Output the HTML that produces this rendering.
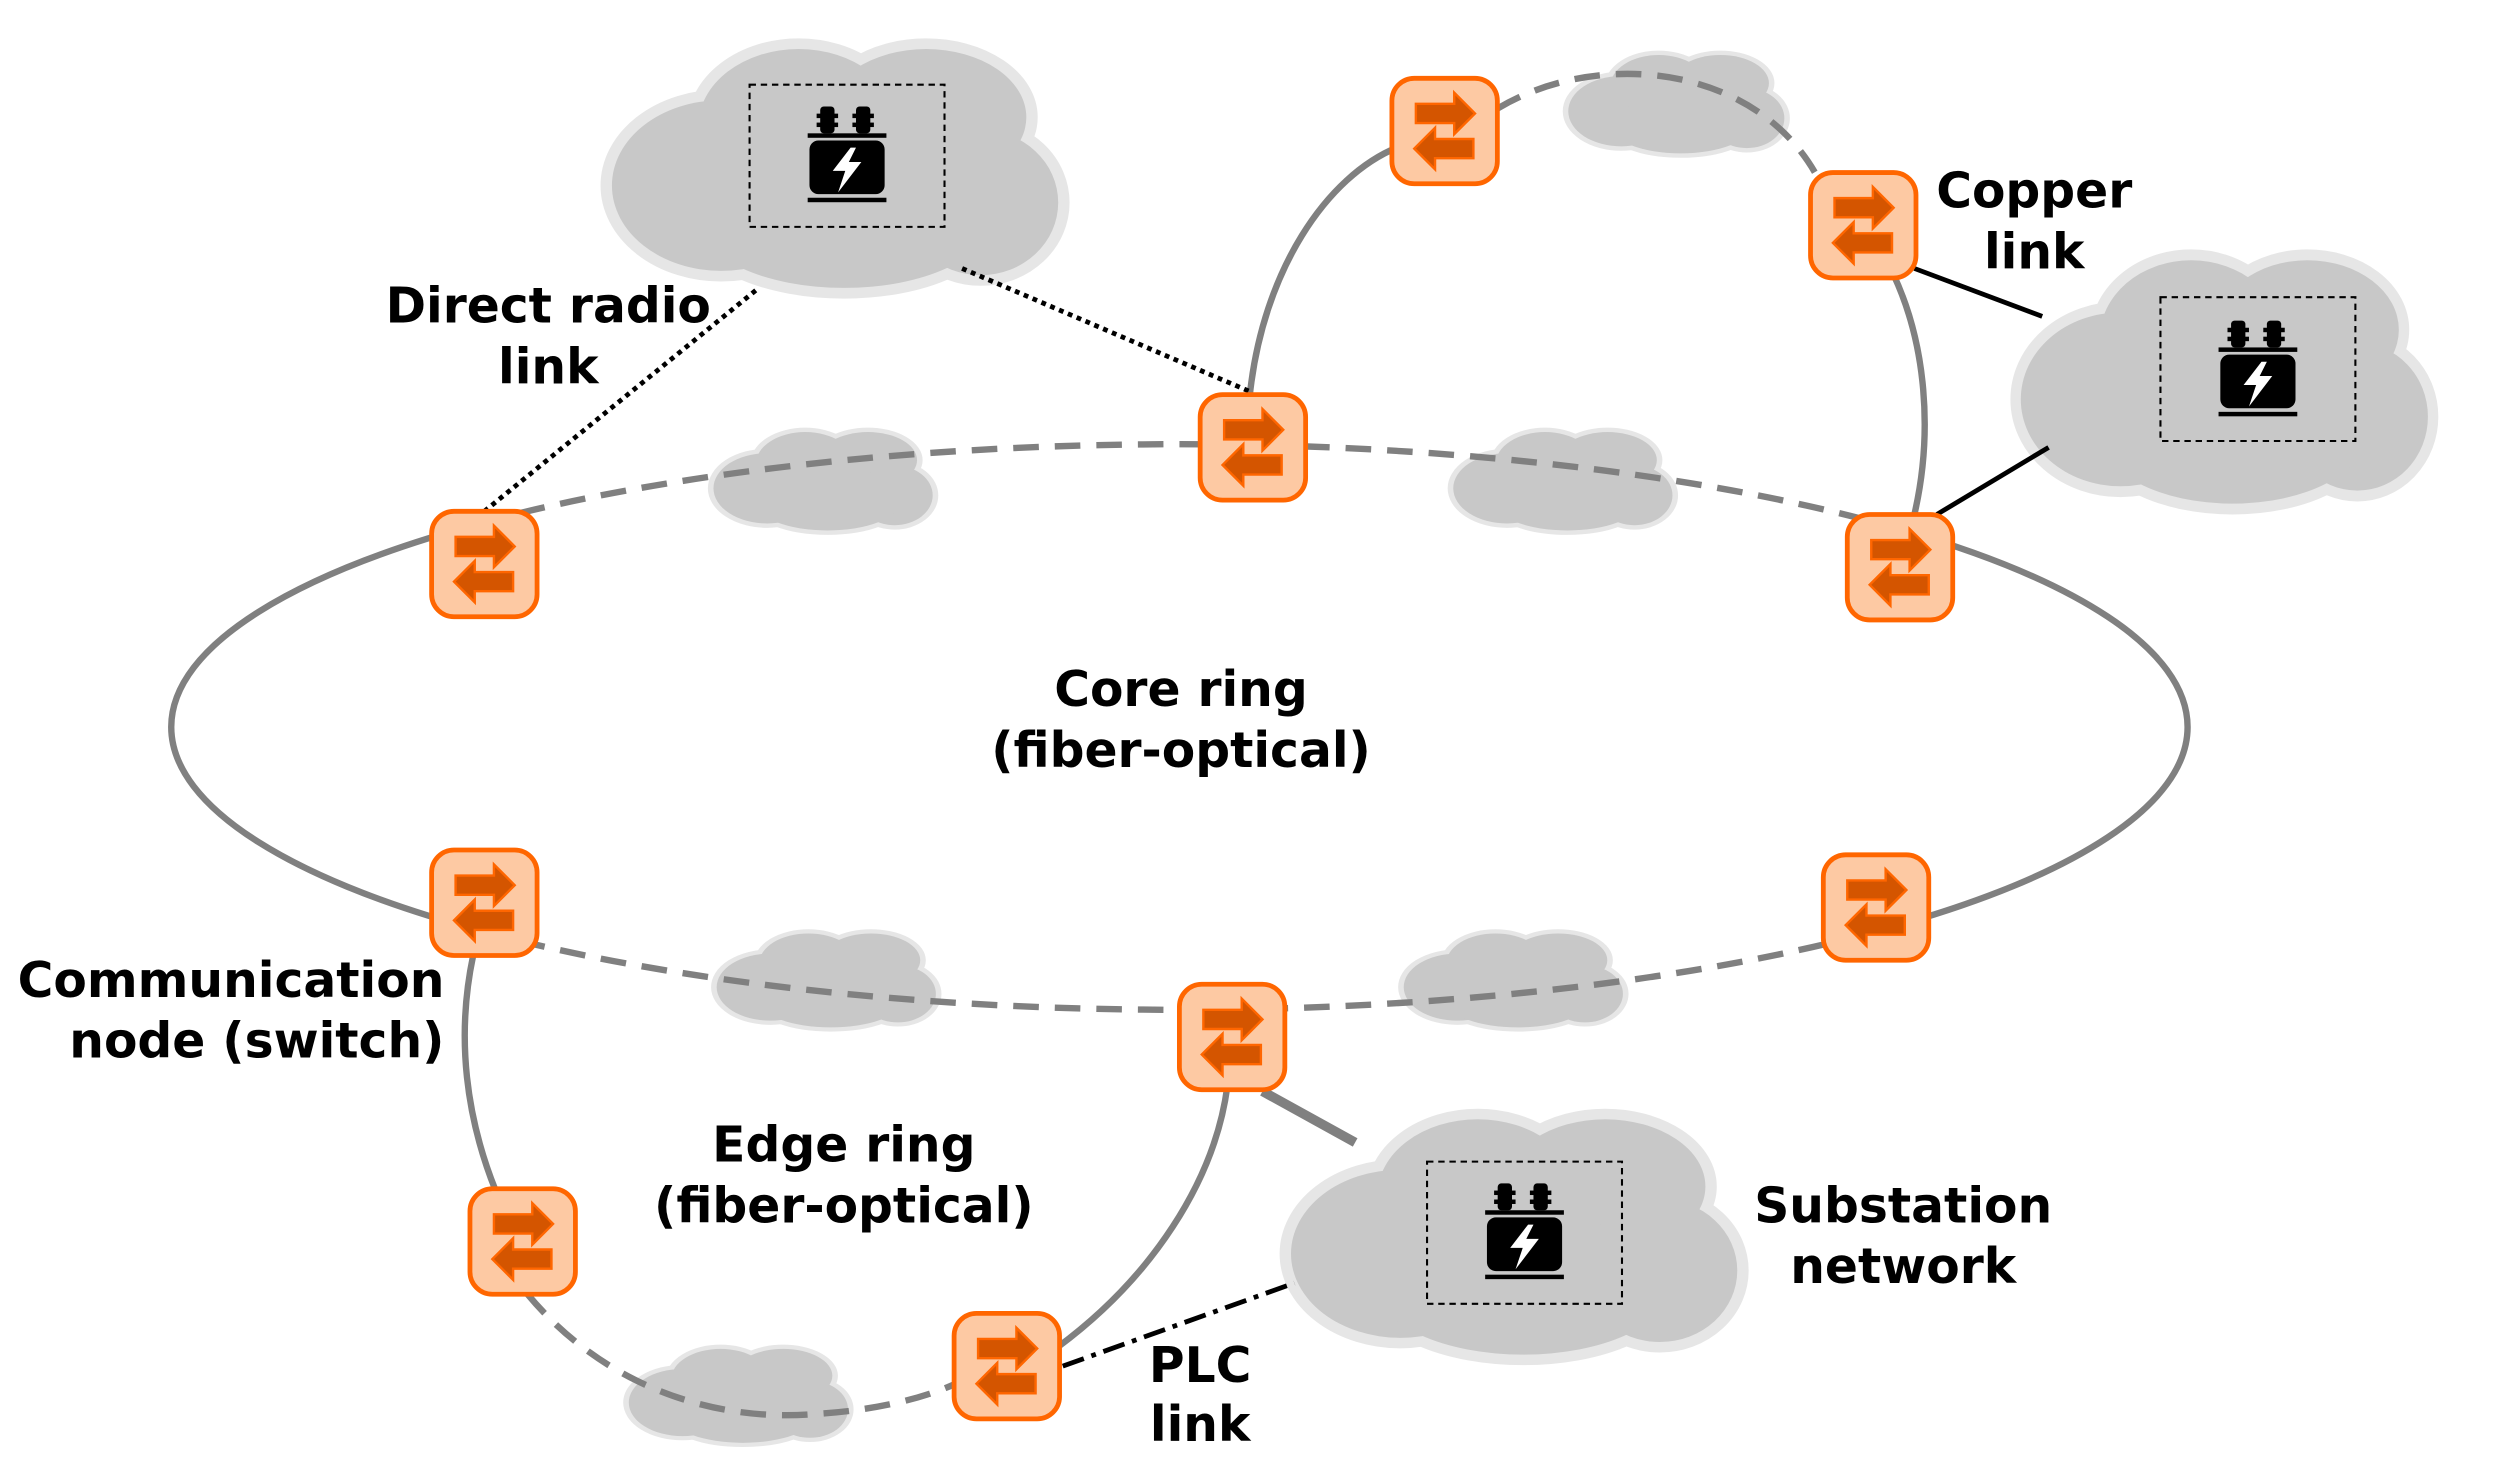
<!DOCTYPE html>
<html><head><style>html,body{margin:0;padding:0;background:#fff}svg{display:block}</style></head>
<body>
<svg width="2493" height="1462" viewBox="0 0 1560 915" xmlns="http://www.w3.org/2000/svg">
<defs>
<g id="cl">
 <g fill="#e6e6e6" stroke="#e6e6e6" stroke-width="5">
  <ellipse cx="25" cy="36" rx="24" ry="20"/><ellipse cx="42" cy="22" rx="22" ry="18"/><ellipse cx="70" cy="20" rx="22" ry="16"/><ellipse cx="82" cy="40" rx="17" ry="17"/><ellipse cx="52" cy="44" rx="32" ry="16"/>
 </g>
 <g fill="#c8c8c8">
  <ellipse cx="25" cy="36" rx="24" ry="20"/><ellipse cx="42" cy="22" rx="22" ry="18"/><ellipse cx="70" cy="20" rx="22" ry="16"/><ellipse cx="82" cy="40" rx="17" ry="17"/><ellipse cx="52" cy="44" rx="32" ry="16"/>
 </g>
</g>
<g id="sw">
 <rect x="-33" y="-33" width="66" height="66" rx="14" fill="#fdc9a3" stroke="#ff6600" stroke-width="3"/>
 <path d="M-18,-17 H6 V-24 L19,-11 L6,2 V-5 H-18 Z" fill="#d45500" stroke="#ff6600" stroke-width="1.5"/>
 <path d="M18,5 H-6 V-2 L-19,11 L-6,24 V17 H18 Z" fill="#d45500" stroke="#ff6600" stroke-width="1.5"/>
</g>
<g id="tr">
 <rect x="-21" y="-9" width="42" height="30" rx="5" fill="#000"/>
 <rect x="-22" y="-13" width="44" height="2.5" fill="#000"/>
 <rect x="-22" y="23" width="44" height="2.5" fill="#000"/>
 <g fill="#000">
  <rect x="-15" y="-28" width="8" height="15" rx="2"/><rect x="-17" y="-24" width="12" height="2.5"/><rect x="-17" y="-19" width="12" height="2.5"/>
  <rect x="5" y="-28" width="8" height="15" rx="2"/><rect x="3" y="-24" width="12" height="2.5"/><rect x="3" y="-19" width="12" height="2.5"/>
 </g>
 <path d="M2,-5 L-8,8 L-1,8 L-5,20 L8,3 L1,3 L5,-5 Z" fill="#fff"/>
</g>
</defs>

<!-- clouds -->
<use href="#cl" transform="translate(380,20) scale(2.85,2.67)"/>
<use href="#cl" transform="translate(1262,152) scale(2.6,2.72)"/>
<use href="#cl" transform="translate(805,690) scale(2.85,2.63)"/>
<use href="#cl" transform="translate(445,266) scale(1.4,1.1)"/>
<use href="#cl" transform="translate(908,266) scale(1.4,1.1)"/>
<use href="#cl" transform="translate(980,30) scale(1.38,1.1)"/>
<use href="#cl" transform="translate(447,580) scale(1.4,1.05)"/>
<use href="#cl" transform="translate(877,580) scale(1.4,1.05)"/>
<use href="#cl" transform="translate(392,840) scale(1.4,1.05)"/>

<!-- dashed boxes + transformers -->
<g fill="none" stroke="#000" stroke-width="1.3" stroke-dasharray="4,3">
 <rect x="469" y="53" width="122" height="89"/>
 <rect x="1352" y="186" width="122" height="90"/>
 <rect x="893" y="727" width="122" height="89"/>
</g>
<use href="#tr" transform="translate(530,98) scale(1.12)"/>
<use href="#tr" transform="translate(1413,232) scale(1.12)"/>
<use href="#tr" transform="translate(954,772) scale(1.12)"/>

<!-- core ring -->
<g fill="none" stroke="#808080" stroke-width="4">
 <path d="M300,327.6 A631,177 0 0 0 300,582.4"/>
 <path d="M1190,331.5 A631,177 0 0 1 1190,578.5"/>
 <path d="M300,327.6 A631,177 0 0 1 1190,331.5" stroke-dasharray="16,10"/>
 <path d="M300,582.4 A631,177 0 0 0 1190,578.5" stroke-dasharray="16,10"/>
 <!-- upper ring -->
 <path d="M782,248 C790,170 830,110 875,92"/>
 <path d="M937,68 C1000,30 1100,40 1138,112" stroke-dasharray="16,10"/>
 <path d="M1185,172 C1205,215 1210,270 1198,322"/>
 <!-- edge ring -->
 <path d="M296,598 C285,650 292,700 310,745"/>
 <path d="M330,810 C380,870 450,890 510,885 C560,882 590,870 600,865" stroke-dasharray="16,10"/>
 <path d="M662,843 C720,800 760,740 768,680"/>
</g>
<line x1="790" y1="683" x2="848" y2="715" stroke="#808080" stroke-width="6"/>

<!-- links -->
<g stroke="#000" fill="none" stroke-width="3">
 <path d="M303,320 L475,180" stroke-dasharray="3,3"/>
 <path d="M602,168 L782,245" stroke-dasharray="3,3"/>
 <path d="M1198,168 L1278,198"/>
 <path d="M1212,322 L1282,280"/>
 <path d="M665,855 L810,803" stroke-dasharray="14,5,3,5"/>
</g>

<!-- switches -->
<use href="#sw" transform="translate(303,353)"/>
<use href="#sw" transform="translate(784,280)"/>
<use href="#sw" transform="translate(904,82)"/>
<use href="#sw" transform="translate(1166,141)"/>
<use href="#sw" transform="translate(1189,355)"/>
<use href="#sw" transform="translate(303,565)"/>
<use href="#sw" transform="translate(1174,568)"/>
<use href="#sw" transform="translate(771,649)"/>
<use href="#sw" transform="translate(327,777)"/>
<use href="#sw" transform="translate(630,855)"/>

<!-- labels -->
<g font-family="'DejaVu Sans','Liberation Sans',sans-serif" font-weight="bold" font-size="30.5" fill="#000" text-anchor="middle">
 <text x="343" y="202">Direct radio</text><text x="343" y="240">link</text>
 <text x="1273" y="130">Copper</text><text x="1273" y="168">link</text>
 <text x="739" y="442">Core ring</text><text x="739" y="480">(fiber-optical)</text>
 <text x="278" y="624" text-anchor="end">Communication</text><text x="278" y="662" text-anchor="end">node (switch)</text>
 <text x="528" y="727">Edge ring</text><text x="528" y="765">(fiber-optical)</text>
 <text x="1191" y="765">Substation</text><text x="1191" y="803">network</text>
 <text x="751" y="865">PLC</text><text x="751" y="902">link</text>
</g>
</svg>
</body></html>
